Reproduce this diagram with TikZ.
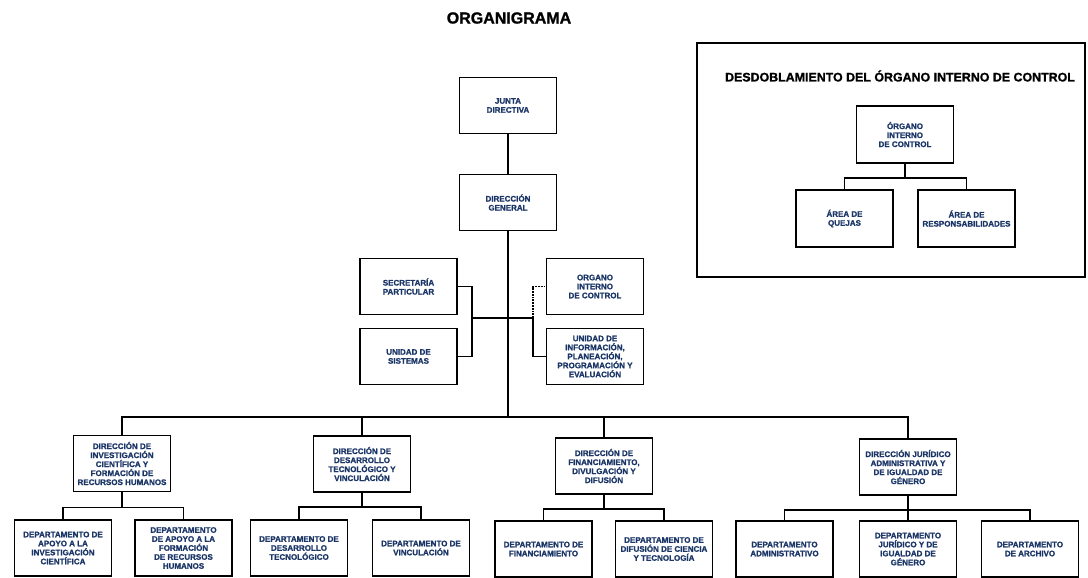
\documentclass[tikz,border=0pt]{standalone}
\usepackage{fontspec}
\setmainfont{Liberation Sans}[BoldFeatures={FakeBold=1.2}]
\usepackage{tikz}

\definecolor{azultexto}{HTML}{1A3566}

\begin{document}
\begin{tikzpicture}[x=1pt,y=-1pt]
	
	% estilos de las cajas y las líneas
	\tikzset{
		caja/.style={draw, line width=1.8pt, align=center, inner sep=1pt,
			minimum width=97pt, minimum height=56pt,
			font=\fontsize{8}{9}\selectfont\bfseries, text=azultexto},
		linea/.style={line width=1.5pt},
		punteada/.style={line width=1.8pt, densely dotted}
	}
	\useasboundingbox (0,0) rectangle (1088,578); % tamaño de la imagen
	
	% título
	\node[font=\fontsize{16}{18}\selectfont\bfseries] (titulo) at (509,18) {ORGANIGRAMA};
	
	% mando superior
	\node[caja] (jd) at (508,105.5) {JUNTA\\DIRECTIVA};
	\node[caja] (dg) at (508,202.5) {DIRECCIÓN\\GENERAL};
	
	% áreas de apoyo
	\node[caja] (sp) at (408.5,286.5) {SECRETARÍA\\PARTICULAR};
	\node[caja] (us) at (408.5,356.5) {UNIDAD DE\\SISTEMAS};
	\node[caja] (oic) at (595,286.5) {ORGANO\\INTERNO\\DE CONTROL};
	\node[caja] (uipe) at (595,356.5) {UNIDAD DE\\INFORMACIÓN,\\PLANEACIÓN,\\PROGRAMACIÓN Y\\EVALUACIÓN};
	
	% direcciones de área
	\node[caja] (di) at (122,463.5) {DIRECCIÓN DE\\INVESTIGACIÓN\\CIENTÍFICA Y\\FORMACIÓN DE\\RECURSOS HUMANOS};
	\node[caja] (ddt) at (362,464) {DIRECCIÓN DE\\DESARROLLO\\TECNOLÓGICO Y\\VINCULACIÓN};
	\node[caja] (df) at (604,466) {DIRECCIÓN DE\\FINANCIAMIENTO,\\DIVULGACIÓN Y\\DIFUSIÓN};
	\node[caja] (dj) at (908,467) {DIRECCIÓN JURÍDICO\\ADMINISTRATIVA Y\\DE IGUALDAD DE\\GÉNERO};
	
	% departamentos
	\node[caja] (da1) at (63,548) {DEPARTAMENTO DE\\APOYO A LA\\INVESTIGACIÓN\\CIENTÍFICA};
	\node[caja] (da2) at (183.5,548) {DEPARTAMENTO\\DE APOYO A LA\\FORMACIÓN\\DE RECURSOS\\HUMANOS};
	\node[caja] (dd1) at (299,548) {DEPARTAMENTO DE\\DESARROLLO\\TECNOLÓGICO};
	\node[caja] (dd2) at (421,548) {DEPARTAMENTO DE\\VINCULACIÓN};
	\node[caja] (df1) at (543.5,549) {DEPARTAMENTO DE\\FINANCIAMIENTO};
	\node[caja] (df2) at (664,549) {DEPARTAMENTO DE\\DIFUSIÓN DE CIENCIA\\Y TECNOLOGÍA};
	\node[caja] (dj1) at (784.5,549) {DEPARTAMENTO\\ADMINISTRATIVO};
	\node[caja] (dj2) at (908,549) {DEPARTAMENTO\\JURÍDICO Y DE\\IGUALDAD DE\\GÉNERO};
	\node[caja] (dj3) at (1030,549) {DEPARTAMENTO\\DE ARCHIVO};
	
	% conexiones del mando superior
	\coordinate (bus) at (508,417); % línea horizontal de direcciones
	\draw[linea] (jd) -- (dg);
	\draw[linea] (dg.south) -- (bus);
	\draw[linea] (di.north) |- (bus) -| (dj.north);
	\draw[linea] (ddt.north) |- (bus);
	\draw[linea] (df.north) |- (bus);
	
	% conexiones de las áreas de apoyo
	\coordinate (c2) at (533,318);
	\draw[linea] (sp.east) -- ++(14,0) coordinate (c1) |- (us.east);
	\draw[linea] (c1 |- c2) -- (c2) |- (uipe.west);
	\draw[punteada] (c2) |- (oic.west);
	
	% conexiones de los departamentos
	\draw[linea] (di.south) -- ++(0,15) coordinate (r1);
	\draw[linea] (da1.north) |- (r1) -| (da2.north);
	\draw[linea] (ddt.south) -- ++(0,14) coordinate (r2);
	\draw[linea] (dd1.north) |- (r2) -| (dd2.north);
	\draw[linea] (df.south) -- ++(0,14) coordinate (r3);
	\draw[linea] (df1.north) |- (r3) -| (df2.north);
	\draw[linea] (dj.south) -- (dj2.north);
	\path (dj.south) ++(0,14) coordinate (r4);
	\draw[linea] (dj1.north) |- (r4) -| (dj3.north);
	
	% desdoblamiento del órgano interno de control
	\draw[line width=1.8pt] (697,43) rectangle (1085,277);
	\node[font=\fontsize{12.4}{14}\selectfont\bfseries] (titulo2) at (900,76) {DESDOBLAMIENTO DEL ÓRGANO INTERNO DE CONTROL};
	\node[caja, minimum height=57pt] (oic2) at (905,134.5) {ÓRGANO\\INTERNO\\DE CONTROL};
	\node[caja, minimum height=57pt] (aq) at (844.5,218.5) {ÁREA DE\\QUEJAS};
	\node[caja, minimum height=57pt] (ar) at (966.5,218.5) {ÁREA DE\\RESPONSABILIDADES};
	\draw[linea] (oic2.south) -- ++(0,14) coordinate (r5);
	\draw[linea] (aq.north) |- (r5) -| (ar.north);
	
\end{tikzpicture}
\end{document}
